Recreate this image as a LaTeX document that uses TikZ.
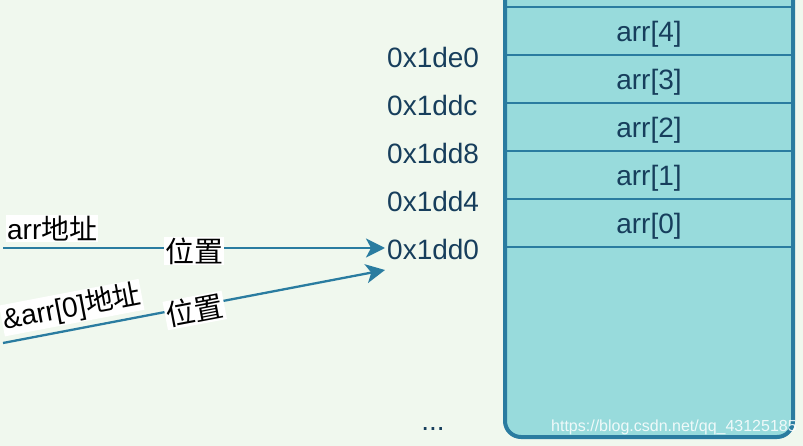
\documentclass[tikz,border=0pt]{standalone}
\usepackage{fontspec}
\setmainfont{Liberation Sans}
\newfontfamily\cjk{Noto Sans CJK SC}
\usetikzlibrary{arrows.meta}
\definecolor{bgc}{HTML}{F0F8EE}
\definecolor{cellc}{HTML}{98DBDC}
\definecolor{edgec}{HTML}{2A7CA0}
\definecolor{txtc}{HTML}{173E5C}
\tikzset{
  bigfont/.style={font=\fontsize{28}{33}\selectfont},
  cellbox/.style={draw=edgec, line width=2, minimum width=288, minimum height=48, inner sep=0, text=txtc, bigfont},
  celltext/.style={text=txtc, bigfont, inner sep=0},
  addr/.style={text=txtc, bigfont, inner sep=2, anchor=west},
  arrowline/.style={draw=edgec, line width=2.3, -{Stealth[length=19,width=19,inset=5]}},
  midlabel/.style={fill=white, inner sep=1, text=black, font=\fontsize{29}{34}\selectfont\cjk},
  startlabel/.style={fill=white, inner sep=1, text=black, bigfont, anchor=south west},
}
\begin{document}
\begin{tikzpicture}[x=1pt,y=-1pt]
\useasboundingbox (0,0) rectangle (803,446);
\fill[bgc] (0,0) rectangle (803,446);
\begin{scope}
\clip (0,0) rectangle (803,446);
\fill[cellc, rounded corners=16] (505,-40) rectangle (793,437);
\node[cellbox] (c0) at (649,223.5) {};
\node[cellbox] (c1) at (649,175.5) {};
\node[cellbox] (c2) at (649,127.5) {};
\node[cellbox] (c3) at (649,79.5) {};
\node[cellbox] (c4) at (649,31.5) {};
\node[celltext] at ([yshift=-3pt]c0.center) {arr[0]};
\node[celltext] at ([yshift=-3pt]c1.center) {arr[1]};
\node[celltext] at ([yshift=-3pt]c2.center) {arr[2]};
\node[celltext] at ([yshift=-3pt]c3.center) {arr[3]};
\node[celltext] at ([yshift=-3pt]c4.center) {arr[4]};
\draw[edgec, line width=4, rounded corners=16] (505,-40) rectangle (793,437);
\end{scope}
\node[addr] (a4) at (385,57) {0x1de0};
\node[addr] (a3) at (385,105) {0x1ddc};
\node[addr] (a2) at (385,153) {0x1dd8};
\node[addr] (a1) at (385,201) {0x1dd4};
\node[addr] (a0) at (385,249) {0x1dd0};
\node[text=txtc, bigfont, inner sep=0] (dots) at (433,429) {...};
\coordinate (s1) at (3,248);
\coordinate (s2) at (3,343);
\coordinate (e2) at (385,270);
\draw[arrowline] (s1) -- node[midlabel, yshift=-3pt]{位置}
  node[pos=0, startlabel, xshift=2pt, yshift=5pt]{arr{\cjk 地址}} (s1 -| a0.west);
\draw[arrowline] (s2) -- node[midlabel, sloped, yshift=-4pt]{位置}
  node[pos=0, startlabel, sloped, xshift=2pt, yshift=5pt]{\&arr[0]{\cjk 地址}} (e2);
\node[anchor=west, text=white, opacity=0.85, font=\fontsize{16}{19}\selectfont, inner sep=0] (wm) at (551,427) {https://blog.csdn.net/qq\_43125185};
\end{tikzpicture}
\end{document}
